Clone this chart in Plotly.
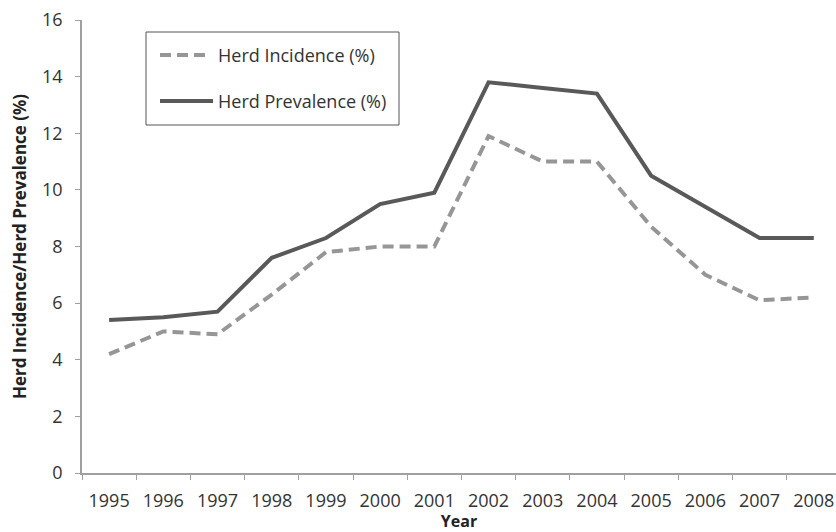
import plotly.graph_objects as go

years = ["1995", "1996", "1997", "1998", "1999", "2000", "2001",
         "2002", "2003", "2004", "2005", "2006", "2007", "2008"]
incidence = [4.2, 5.0, 4.9, 6.3, 7.8, 8.0, 8.0, 11.9, 11.0, 11.0, 8.7, 7.0, 6.1, 6.2]
prevalence = [5.4, 5.5, 5.7, 7.6, 8.3, 9.5, 9.9, 13.8, 13.6, 13.4, 10.5, 9.4, 8.3, 8.3]
y_ticks = [0, 2, 4, 6, 8, 10, 12, 14, 16]

inc_color = "#969696"
prev_color = "#595959"
font_fam = "Open Sans, DejaVu Sans, sans-serif"

fig = go.Figure()
fig.add_trace(go.Scatter(x=years, y=incidence, mode="lines", name="Herd Incidence (%)",
                         line=dict(color=inc_color, width=4, dash="11px,6px"),
                         showlegend=False))
fig.add_trace(go.Scatter(x=years, y=prevalence, mode="lines", name="Herd Prevalence (%)",
                         line=dict(color=prev_color, width=4), showlegend=False))

W, H = 836, 532
L, R, T, B = 82, 0, 20, 59
pw, ph = W - L - R, H - T - B

def px(x):
    return (x - L) / pw

def py(y):
    return (H - B - y) / ph

# manual legend box
fig.add_shape(type="rect", xref="paper", yref="paper",
              x0=px(146), x1=px(399), y0=py(125), y1=py(32),
              line=dict(color="#555555", width=1), fillcolor="white")
fig.add_shape(type="line", xref="paper", yref="paper",
              x0=px(160), x1=px(211), y0=py(55), y1=py(55),
              line=dict(color=inc_color, width=4, dash="11px,6px"))
fig.add_shape(type="line", xref="paper", yref="paper",
              x0=px(160), x1=px(213), y0=py(101), y1=py(101),
              line=dict(color=prev_color, width=4))
for label, yy in [("Herd Incidence (%)", 55), ("Herd Prevalence (%)", 101)]:
    fig.add_annotation(xref="paper", yref="paper", x=px(216), y=py(yy),
                       text=label, showarrow=False, xanchor="left", yanchor="middle",
                       font=dict(family=font_fam, size=18, color="#333333"))

fig.update_layout(
    width=W, height=H,
    margin=dict(l=L, r=R, t=T, b=B, pad=0),
    paper_bgcolor="white", plot_bgcolor="white",
    font=dict(family=font_fam, size=16, color="#333333"),
    xaxis=dict(type="category", range=[-0.5, 13.41], tickson="boundaries",
               ticks="outside", ticklen=5, tickcolor="#A0A0A0", tickwidth=1,
               showline=True, linecolor="#A0A0A0", linewidth=1.5,
               showgrid=False, zeroline=False, ticklabelstandoff=11,
               tickfont=dict(size=18, color="#333333"),
               title=dict(text="<b>Year</b>", font=dict(size=16, color="#222222"), standoff=3)),
    yaxis=dict(range=[0, 16], tickvals=y_ticks, ticks="outside", ticklen=5,
               tickcolor="#A0A0A0", tickwidth=1,
               showline=True, linecolor="#A0A0A0", linewidth=1.5,
               showgrid=False, zeroline=False, ticklabelstandoff=9,
               tickfont=dict(size=18, color="#333333"),
               title=dict(text="<b>Herd Incidence/Herd Prevalence (%)</b>",
                          font=dict(size=17, color="#222222"), standoff=11)),
)

fig.write_html("out.html", config={"displayModeBar": False},
               post_script="document.body.style.margin='0';")
